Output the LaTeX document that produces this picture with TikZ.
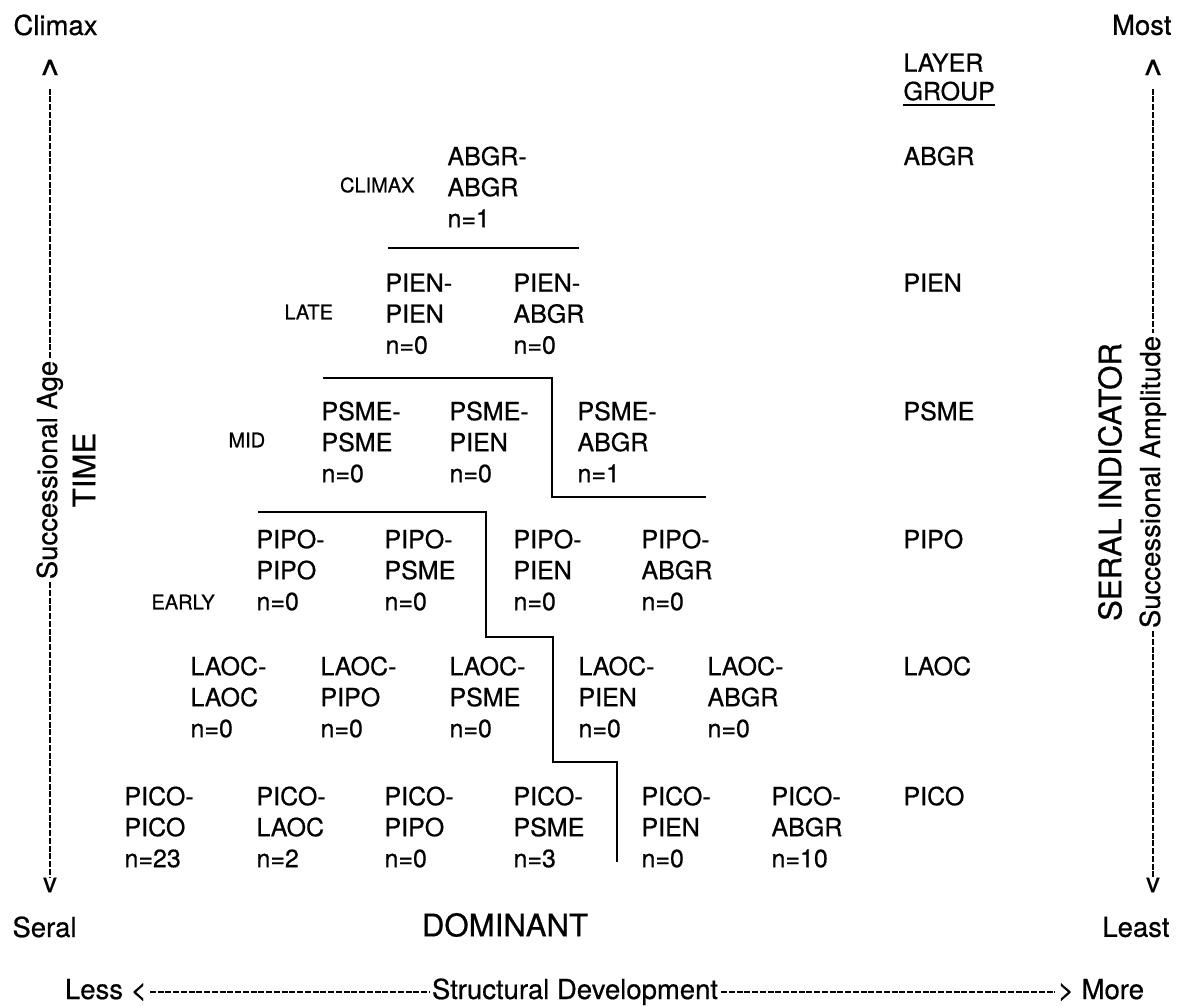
\documentclass[tikz,border=0pt]{standalone}
\usepackage{fontspec}
\setmainfont{TeX Gyre Heros}[UprightFeatures={FakeBold=0.6}]

\begin{document}
\begin{tikzpicture}[x=0.4pt,y=-0.4pt,
  cell/.style={anchor=north west, align=left, inner sep=0pt, font=\fontsize{10}{12.4}\selectfont},
  stage/.style={inner sep=0pt, font=\fontsize{8}{9.6}\selectfont},
  axislbl/.style={inner sep=1pt, font=\fontsize{11}{13}\selectfont, text height=7.9pt, text depth=2.3pt},
  cornerlbl/.style={inner sep=0pt, font=\fontsize{11}{13}\selectfont},
  bigtitle/.style={inner sep=0pt, font=\fontsize{12.5}{15}\selectfont},
  axisline/.style={line width=0.8pt, dash pattern=on 2.4pt off 0.7pt},
  stepline/.style={line width=0.8pt}]
\useasboundingbox (0,0) rectangle (1180,1006);

% left axis
\node[cornerlbl, anchor=west] (climax) at (13,25) {Climax};
\node[cornerlbl, font=\fontsize{16}{18}\selectfont] (upL) at (50,74) {\textasciicircum};
\node[axislbl, rotate=90] (ageL) at (50,470) {Successional Age};
\node[cornerlbl] (downL) at (50,885) {v};
\draw[axisline] (upL) -- (ageL);
\draw[axisline] (ageL) -- (downL);
\node[cornerlbl, anchor=west] (seral) at (12,927) {Seral};
\node[bigtitle, rotate=90] (time) at (84,470) {TIME};

% right axis
\node[cornerlbl, anchor=east] (most) at (1172,25) {Most};
\node[cornerlbl, font=\fontsize{16}{18}\selectfont] (upR) at (1153,74) {\textasciicircum};
\node[axislbl, rotate=90] (ampR) at (1153,482) {Successional Amplitude};
\node[cornerlbl] (downR) at (1153,885) {v};
\draw[axisline] (upR) -- (ampR);
\draw[axisline] (ampR) -- (downR);
\node[cornerlbl, anchor=east] (least) at (1170,927) {Least};
\node[bigtitle, rotate=90] (serind) at (1110,482) {SERAL INDICATOR};

% layer group column
\node[cell] (layer) at (903,53) {LAYER};
\node[cell] (group) at (903,81) {GROUP};
\draw[stepline] ([yshift=-1.6pt]group.south west) -- ([yshift=-1.6pt]group.south east);
\node[cell] (lgAbgr) at (903,146) {ABGR};
\node[cell] (lgPien) at (903,273) {PIEN};
\node[cell] (lgPsme) at (903,401) {PSME};
\node[cell] (lgPipo) at (903,529) {PIPO};
\node[cell] (lgLaoc) at (903,656) {LAOC};
\node[cell] (lgPico) at (903,786) {PICO};

% stages
\node[stage, anchor=east] (climaxst) at (415,185) {CLIMAX};
\node[stage, anchor=west] (latest) at (284,312) {LATE};
\node[stage, anchor=west] (midst) at (228,440) {MID};
\node[stage, anchor=west] (earlyst) at (151,602) {EARLY};

% cells
\node[cell] (abgrAbgr) at (447,146) {ABGR-\\ABGR\\n=1};

\node[cell] (pienPien) at (385,273) {PIEN-\\PIEN\\n=0};
\node[cell] (pienAbgr) at (513,273) {PIEN-\\ABGR\\n=0};

\node[cell] (psmePsme) at (321,401) {PSME-\\PSME\\n=0};
\node[cell] (psmePien) at (449,401) {PSME-\\PIEN\\n=0};
\node[cell] (psmeAbgr) at (577,401) {PSME-\\ABGR\\n=1};

\node[cell] (pipoPipo) at (256,529) {PIPO-\\PIPO\\n=0};
\node[cell] (pipoPsme) at (384,529) {PIPO-\\PSME\\n=0};
\node[cell] (pipoPien) at (513,529) {PIPO-\\PIEN\\n=0};
\node[cell] (pipoAbgr) at (641,529) {PIPO-\\ABGR\\n=0};

\node[cell] (laocLaoc) at (190,656) {LAOC-\\LAOC\\n=0};
\node[cell] (laocPipo) at (320,656) {LAOC-\\PIPO\\n=0};
\node[cell] (laocPsme) at (449,656) {LAOC-\\PSME\\n=0};
\node[cell] (laocPien) at (578,656) {LAOC-\\PIEN\\n=0};
\node[cell] (laocAbgr) at (707,656) {LAOC-\\ABGR\\n=0};

\node[cell] (picoPico) at (124,786) {PICO-\\PICO\\n=23};
\node[cell] (picoLaoc) at (256,786) {PICO-\\LAOC\\n=2};
\node[cell] (picoPipo) at (384,786) {PICO-\\PIPO\\n=0};
\node[cell] (picoPsme) at (513,786) {PICO-\\PSME\\n=3};
\node[cell] (picoPien) at (641,786) {PICO-\\PIEN\\n=0};
\node[cell] (picoAbgr) at (771,786) {PICO-\\ABGR\\n=10};

% step lines
\draw[stepline] (388,248) -- (579,248);
\draw[stepline] (323,378) -- (552,378) -- (552,497) -- (706,497);
\draw[stepline] (258,512) -- (486,512) -- (486,637) -- (553,637) -- (553,762) -- (617,762) -- (617,862);

% bottom
\node[bigtitle] (dom) at (505,925) {DOMINANT};
\node[axislbl, anchor=west] (less) at (62,992) {Less <};
\node[axislbl] (struct) at (575,992) {Structural Development};
\node[axislbl, anchor=east] (more) at (1147,992) {> More};
\draw[axisline] (less) -- (struct);
\draw[axisline] (struct) -- (more);
\end{tikzpicture}
\end{document}
